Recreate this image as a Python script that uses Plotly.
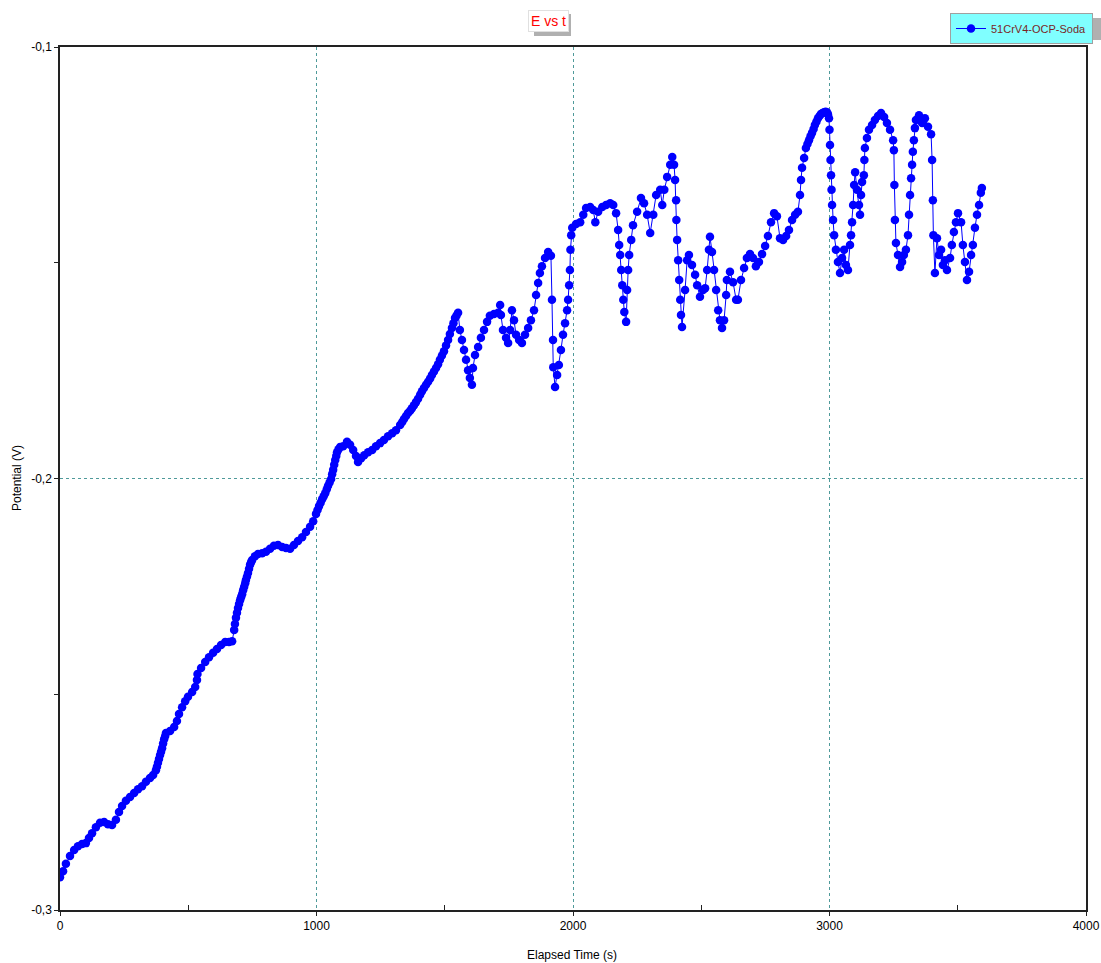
import plotly.graph_objects as go

# Elapsed time (s) and potential (V)
t_early = [0, 12, 23, 39, 55, 70, 86, 101, 113, 125, 140, 156, 172, 187, 203, 218, 230, 242, 257, 273,
           289, 304, 320, 335, 351, 363, 374, 382, 390, 398, 406, 413, 429, 445, 456, 464, 476, 488, 499, 515,
           527, 534, 536, 550, 566, 581, 597, 612, 628, 644, 659, 671, 679, 686, 694, 702, 710, 718, 725, 733,
           741, 749, 760, 772, 788, 803, 819, 834, 850, 866, 881, 897, 912, 928, 944, 959, 975, 987, 998, 1010,
           1022, 1034, 1045, 1057, 1065, 1073, 1080, 1092, 1104, 1119, 1131, 1143, 1154, 1162, 1174, 1186, 1201, 1217, 1232, 1248,
           1263, 1279, 1295, 1310, 1326, 1341, 1357, 1372, 1388, 1404, 1419, 1435, 1450, 1466, 1481, 1497, 1513, 1528, 1540, 1552]
E_early = [-0.2924, -0.2910, -0.2893, -0.2875, -0.2861, -0.2852, -0.2847, -0.2845, -0.2833, -0.2822, -0.2808, -0.2798, -0.2796, -0.2801, -0.2803, -0.2791, -0.2773, -0.2759, -0.2747, -0.2738,
           -0.2729, -0.2720, -0.2713, -0.2703, -0.2694, -0.2687, -0.2676, -0.2659, -0.2641, -0.2625, -0.2604, -0.2590, -0.2585, -0.2576, -0.2562, -0.2546, -0.2530, -0.2516, -0.2506, -0.2495,
           -0.2483, -0.2467, -0.2453, -0.2439, -0.2425, -0.2414, -0.2404, -0.2395, -0.2386, -0.2379, -0.2379, -0.2377, -0.2351, -0.2323, -0.2300, -0.2282, -0.2268, -0.2251, -0.2235, -0.2219,
           -0.2200, -0.2189, -0.2180, -0.2175, -0.2173, -0.2170, -0.2163, -0.2156, -0.2154, -0.2159, -0.2161, -0.2163, -0.2154, -0.2145, -0.2136, -0.2124, -0.2112, -0.2099, -0.2082, -0.2064,
           -0.2048, -0.2034, -0.2017, -0.2001, -0.1980, -0.1957, -0.1939, -0.1927, -0.1925, -0.1915, -0.1922, -0.1934, -0.1948, -0.1962, -0.1953, -0.1946, -0.1939, -0.1934, -0.1925, -0.1918,
           -0.1911, -0.1902, -0.1895, -0.1888, -0.1876, -0.1862, -0.1848, -0.1837, -0.1823, -0.1806, -0.1790, -0.1776, -0.1760, -0.1744, -0.1725, -0.1705, -0.1679, -0.1651, -0.1628, -0.1616]

# additional readings in the densely sampled stretches
t_dense = [378, 386, 394, 402, 410, 682, 690, 698, 706, 714, 722, 729, 737, 745,
           1004, 1016, 1028, 1040, 1051, 1061, 1069, 1077, 1086,
           1334, 1349, 1365, 1380, 1396, 1411, 1427, 1443, 1458, 1474, 1489, 1505, 1520, 1534, 1546,
           2914, 2926, 2938, 2949, 2961, 2973, 2985, 2994]
E_dense = [-0.2668, -0.2650, -0.2633, -0.2614, -0.2597, -0.2337, -0.2311, -0.2291, -0.2275, -0.2259, -0.2243, -0.2227, -0.2209, -0.2194,
           -0.2073, -0.2056, -0.2041, -0.2025, -0.2009, -0.1990, -0.1968, -0.1948, -0.1932,
           -0.1869, -0.1855, -0.1843, -0.1830, -0.1815, -0.1798, -0.1783, -0.1768, -0.1752, -0.1735, -0.1715, -0.1692, -0.1665, -0.1640, -0.1622,
           -0.1225, -0.1207, -0.1190, -0.1173, -0.1160, -0.1153, -0.1150, -0.1156]

t_late = [1559, 1567, 1575, 1583, 1591, 1598, 1606, 1610, 1618, 1630, 1641, 1653, 1665, 1676, 1692, 1708, 1716, 1719, 1727, 1739,
          1747, 1755, 1762, 1770, 1778, 1790, 1801, 1813, 1825, 1836, 1848, 1856, 1864, 1871, 1879, 1891, 1903, 1914, 1918, 1922,
          1923, 1930, 1938, 1945, 1953, 1961, 1969, 1977, 1981, 1985, 1988, 1990, 1993, 1997, 2012, 2028, 2040, 2051, 2067, 2079,
          2087, 2098, 2114, 2129, 2145, 2157, 2168, 2176, 2180, 2184, 2188, 2192, 2196, 2200, 2207, 2211, 2215, 2219, 2227, 2234,
          2250, 2265, 2277, 2289, 2301, 2313, 2324, 2340, 2348, 2356, 2367, 2379, 2387, 2394, 2398, 2402, 2403, 2406, 2410, 2414,
          2418, 2421, 2425, 2437, 2445, 2452, 2464, 2476, 2484, 2495, 2507, 2515, 2523, 2530, 2534, 2542, 2550, 2558, 2566, 2573,
          2581, 2589, 2597, 2600, 2612, 2624, 2636, 2643, 2655, 2667, 2678, 2690, 2702, 2713, 2725, 2737, 2749, 2760, 2772, 2784,
          2795, 2807, 2819, 2831, 2842, 2854, 2866, 2877, 2885, 2889, 2893, 2901, 2908, 2920, 2932, 2943, 2955, 2967, 2979, 2990,
          2998, 3000, 3002, 3004, 3006, 3008, 3010, 3014, 3018, 3025, 3033, 3041, 3049, 3057, 3064, 3072, 3080, 3084, 3088, 3092,
          3096, 3100, 3107, 3115, 3119, 3123, 3127, 3134, 3136, 3138, 3146, 3154, 3166, 3177, 3189, 3201, 3213, 3224, 3236, 3248,
          3251, 3253, 3255, 3259, 3267, 3275, 3283, 3290, 3298, 3306, 3310, 3314, 3318, 3322, 3325, 3329, 3333, 3337, 3349, 3361,
          3372, 3384, 3396, 3400, 3403, 3405, 3411, 3419, 3427, 3435, 3442, 3450, 3458, 3470, 3477, 3485, 3493, 3501, 3513, 3520,
          3528, 3536, 3544, 3552, 3559, 3567, 3575, 3583, 3590, 3594]
E_late = [-0.1656, -0.1679, -0.1702, -0.1725, -0.1749, -0.1767, -0.1783, -0.1744, -0.1714, -0.1695, -0.1674, -0.1656, -0.1637, -0.1623, -0.1619, -0.1616, -0.1598, -0.1621, -0.1656, -0.1674,
          -0.1686, -0.1656, -0.1610, -0.1633, -0.1667, -0.1679, -0.1686, -0.1667, -0.1651, -0.1633, -0.1610, -0.1575, -0.1547, -0.1524, -0.1508, -0.1489, -0.1475, -0.1484, -0.1586, -0.1679,
          -0.1742, -0.1788, -0.1760, -0.1737, -0.1702, -0.1667, -0.1640, -0.1610, -0.1586, -0.1552, -0.1517, -0.1470, -0.1436, -0.1419, -0.1410, -0.1406, -0.1389, -0.1373, -0.1371, -0.1378,
          -0.1406, -0.1382, -0.1371, -0.1366, -0.1362, -0.1366, -0.1385, -0.1424, -0.1459, -0.1482, -0.1517, -0.1552, -0.1586, -0.1614, -0.1637, -0.1563, -0.1517, -0.1482, -0.1447, -0.1413,
          -0.1382, -0.1350, -0.1362, -0.1389, -0.1431, -0.1389, -0.1343, -0.1331, -0.1366, -0.1331, -0.1301, -0.1273, -0.1255, -0.1273, -0.1308, -0.1355, -0.1401, -0.1447, -0.1494, -0.1540,
          -0.1586, -0.1621, -0.1649, -0.1563, -0.1494, -0.1482, -0.1505, -0.1528, -0.1552, -0.1579, -0.1563, -0.1559, -0.1517, -0.1470, -0.1440, -0.1475, -0.1517, -0.1563, -0.1610, -0.1633,
          -0.1651, -0.1633, -0.1575, -0.1540, -0.1521, -0.1545, -0.1586, -0.1586, -0.1540, -0.1512, -0.1489, -0.1480, -0.1489, -0.1508, -0.1498, -0.1480, -0.1461, -0.1438, -0.1406, -0.1385,
          -0.1392, -0.1443, -0.1447, -0.1438, -0.1424, -0.1401, -0.1389, -0.1382, -0.1343, -0.1308, -0.1280, -0.1257, -0.1234, -0.1216, -0.1199, -0.1181, -0.1165, -0.1155, -0.1151, -0.1151,
          -0.1165, -0.1192, -0.1227, -0.1262, -0.1297, -0.1331, -0.1366, -0.1401, -0.1436, -0.1470, -0.1498, -0.1524, -0.1489, -0.1470, -0.1505, -0.1517, -0.1459, -0.1436, -0.1406, -0.1366,
          -0.1320, -0.1290, -0.1331, -0.1366, -0.1389, -0.1343, -0.1313, -0.1297, -0.1262, -0.1234, -0.1211, -0.1192, -0.1181, -0.1169, -0.1160, -0.1153, -0.1162, -0.1176, -0.1192, -0.1216,
          -0.1239, -0.1320, -0.1401, -0.1454, -0.1482, -0.1510, -0.1498, -0.1482, -0.1470, -0.1436, -0.1389, -0.1343, -0.1304, -0.1273, -0.1243, -0.1216, -0.1188, -0.1169, -0.1158, -0.1176,
          -0.1165, -0.1185, -0.1202, -0.1262, -0.1355, -0.1436, -0.1524, -0.1443, -0.1482, -0.1470, -0.1505, -0.1494, -0.1517, -0.1489, -0.1459, -0.1429, -0.1406, -0.1385, -0.1406, -0.1459,
          -0.1498, -0.1540, -0.1521, -0.1482, -0.1459, -0.1419, -0.1389, -0.1366, -0.1338, -0.1327]

x_tick_vals = [0, 1000, 2000, 3000, 4000]
x_tick_text = ["0", "1000", "2000", "3000", "4000"]
y_tick_vals = [-0.3, -0.2, -0.1]
y_tick_text = ["-0,3", "-0,2", "-0,1"]
series_name = "51CrV4-OCP-Soda"
chart_title = "E vs t"

# merge all readings in time order (stable for the equal-time duplicates)
records = sorted(zip(t_early + t_dense + t_late, E_early + E_dense + E_late), key=lambda r: r[0])
time_s = [r[0] for r in records]
potential_V = [r[1] for r in records]

FONT = "Liberation Sans, Arial, sans-serif"
GRID = "#4f9a9a"
W, H = 1101, 963
ML, MR, MT, MB = 60, 15, 47, 53
PW, PH = W - ML - MR, H - MT - MB


def px_x(px):
    return (px - ML) / PW


def px_y(py):
    return (H - MB - py) / PH


fig = go.Figure()
fig.add_trace(go.Scatter(
    x=time_s, y=potential_V, mode="lines+markers", name=series_name,
    line=dict(color="#0000ff", width=1),
    marker=dict(color="#0000ff", size=8.5, line=dict(width=0)),
))

fig.update_layout(
    width=W, height=H,
    margin=dict(l=ML, r=MR, t=MT, b=MB, autoexpand=False),
    paper_bgcolor="white", plot_bgcolor="white",
    font=dict(family=FONT, size=12, color="black"),
    showlegend=True,
    legend=dict(
        x=px_x(950), y=px_y(13), xanchor="left", yanchor="top",
        bgcolor="#80ffff", bordercolor="#a0a0a0", borderwidth=1,
        font=dict(family=FONT, size=11, color="#7a1f1f"),
        itemwidth=30, tracegroupgap=0,
    ),
    xaxis=dict(
        range=[0, 4000], tickmode="array", tickvals=x_tick_vals, ticktext=x_tick_text,
        showgrid=True, gridcolor=GRID, griddash="dot", gridwidth=1,
        showline=True, linecolor="#222222", linewidth=1.5, mirror=True,
        ticks="outside", ticklen=4, tickcolor="#222222",
        minor=dict(tickmode="array", tickvals=[500, 1500, 2500, 3500], ticks="inside",
                   ticklen=5, tickcolor="#222222", showgrid=False),
        zeroline=False, tickfont=dict(size=12),
    ),
    yaxis=dict(
        range=[-0.3, -0.1], tickmode="array", tickvals=y_tick_vals, ticktext=y_tick_text,
        showgrid=True, gridcolor=GRID, griddash="dot", gridwidth=1,
        showline=True, linecolor="#222222", linewidth=1.5, mirror=True,
        ticks="outside", ticklen=4, tickcolor="#222222",
        minor=dict(tickmode="array", tickvals=[-0.25, -0.15], ticks="outside",
                   ticklen=4, tickcolor="#222222", showgrid=False),
        zeroline=False, tickfont=dict(size=12),
    ),
)

# title box with shadow
fig.add_shape(type="rect", xref="paper", yref="paper",
              x0=px_x(534), x1=px_x(571), y0=px_y(36), y1=px_y(14),
              fillcolor="#b0b0b0", line=dict(width=0), layer="below")
fig.add_annotation(text=chart_title, xref="paper", yref="paper",
                   x=px_x(548), y=px_y(21), xanchor="center", yanchor="middle", showarrow=False,
                   font=dict(family=FONT, size=14, color="#ff0000"),
                   bgcolor="white", bordercolor="#e0e0e0", borderwidth=1, borderpad=2)
# legend shadow
fig.add_shape(type="rect", xref="paper", yref="paper",
              x0=px_x(954), x1=px_x(1101), y0=px_y(40), y1=px_y(18),
              fillcolor="#b0b0b0", line=dict(width=0), layer="below")

fig.add_annotation(text="Elapsed Time (s)", xref="paper", yref="paper",
                   x=px_x(572), y=px_y(955), xanchor="center", yanchor="middle", showarrow=False,
                   font=dict(family=FONT, size=12, color="black"))
fig.add_annotation(text="Potential (V)", xref="paper", yref="paper",
                   x=px_x(17), y=px_y(478), xanchor="center", yanchor="middle", showarrow=False,
                   textangle=-90, font=dict(family=FONT, size=12, color="black"))

fig.write_html("out.html", config={"displayModeBar": False},
               post_script="document.body.style.margin='0';")
